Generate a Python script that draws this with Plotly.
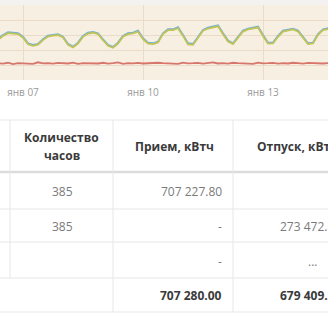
import plotly.graph_objects as go
import pandas as pd

W, H = 328, 320

# ---- chart data (3-hour samples from 2021-01-06 09:00) ----
times = pd.date_range("2021-01-06 09:00", periods=68, freq="3h").strftime("%Y-%m-%d %H:%M").tolist()
blue = [1367, 1500, 1589, 1578, 1556, 1444, 1222, 1167, 1200, 1356,
        1478, 1500, 1522, 1444, 1200, 1111, 1244, 1467, 1578, 1600,
        1556, 1356, 1167, 1100, 1244, 1467, 1556, 1578, 1644, 1389,
        1244, 1222, 1278, 1556, 1689, 1689, 1756, 1500, 1222, 1200,
        1422, 1667, 1744, 1778, 1822, 1556, 1311, 1222, 1422, 1644,
        1711, 1756, 1778, 1500, 1244, 1244, 1467, 1644, 1667, 1711,
        1644, 1422, 1222, 1244, 1533, 1689, 1722, 1689]
green = [1340, 1470, 1560, 1555, 1530, 1410, 1190, 1140, 1175, 1330,
         1450, 1480, 1500, 1415, 1170, 1085, 1215, 1440, 1550, 1575,
         1530, 1325, 1140, 1075, 1215, 1440, 1530, 1555, 1610, 1360,
         1215, 1195, 1250, 1530, 1660, 1665, 1725, 1470, 1190, 1170,
         1395, 1640, 1715, 1750, 1790, 1525, 1280, 1195, 1395, 1615,
         1685, 1730, 1750, 1470, 1215, 1220, 1440, 1615, 1640, 1685,
         1615, 1395, 1195, 1220, 1505, 1660, 1695, 1660]
red = [560, 545, 575, 530, 560, 550, 565, 540, 590, 555,
       560, 545, 570, 560, 550, 580, 540, 560, 555, 565,
       550, 575, 545, 560, 590, 540, 565, 555, 570, 550,
       560, 545, 575, 560, 550, 565, 540, 580, 555, 560,
       570, 545, 560, 590, 550, 565, 545, 575, 560, 550,
       565, 540, 580, 555, 560, 570, 545, 565, 550, 575,
       560, 545, 570, 555, 565, 550, 560, 545]
tick_dates = ["2021-01-07", "2021-01-10", "2021-01-13"]
tick_labels = ["янв 07", "янв 10", "янв 13"]

# ---- table data ----
header_hours = ["Количество", "часов"]
header_priem = "Прием, кВтч"
header_otpusk = "Отпуск, кВтч"
hours = ["385", "385", ""]
priem = ["707 227.80", "-", "-"]
otpusk = ["", "273 472.80", "..."]
total_priem = "707 280.00"
total_otpusk = "679 409.80"

FONT = "Open Sans"


def px(x):
    return x / W


def py(y):
    return 1 - y / H


fig = go.Figure()
fig.add_trace(go.Scatter(x=times, y=red, mode="lines",
                         line=dict(color="#d7766c", width=1.8), hoverinfo="skip"))
fig.add_trace(go.Scatter(x=times, y=blue, mode="lines",
                         line=dict(color="#72b2d6", width=2), hoverinfo="skip"))
fig.add_trace(go.Scatter(x=times, y=green, mode="lines",
                         line=dict(color="#c3c455", width=1.8), hoverinfo="skip"))

shapes = []
shapes.append(dict(type="rect", xref="paper", yref="paper", x0=0, x1=1,
                   y0=py(5), y1=1, fillcolor="#f3f2f0", line=dict(width=0), layer="below"))

LC = "#e7e7e7"


def hline(y, x0=0, x1=W, color=LC, width=1):
    shapes.append(dict(type="line", xref="paper", yref="paper",
                       x0=px(x0), x1=px(x1), y0=py(y), y1=py(y),
                       line=dict(color=color, width=width)))


def vline(x, y0, y1, color=LC, width=1):
    shapes.append(dict(type="line", xref="paper", yref="paper",
                       x0=px(x), x1=px(x), y0=py(y0), y1=py(y1),
                       line=dict(color=color, width=width)))


hline(120)
hline(172, color="#dcdcdc", width=2.5)
hline(209)
hline(242)
hline(278)
hline(312)
vline(10, 120, 278)
vline(113, 120, 312)
vline(233, 120, 312)

ann = []


def text(x, y, s, anchor="center", bold=False, color="#7a7a7a", size=12):
    ann.append(dict(xref="paper", yref="paper", x=px(x), y=py(y), text=s,
                    showarrow=False, xanchor=anchor, yanchor="middle",
                    font=dict(family=FONT, size=size, color=color,
                              weight="bold" if bold else "normal")))


HC = "#3a3a3a"
text(61.5, 137, header_hours[0], bold=True, color=HC)
text(61.5, 155, header_hours[1], bold=True, color=HC)
text(174, 146, header_priem, bold=True, color=HC)
text(255, 146, header_otpusk, anchor="left", bold=True, color=HC)

row_y = [191, 226, 261]
for i, y in enumerate(row_y):
    if hours[i]:
        text(62, y, hours[i])
    if priem[i]:
        text(224, y, priem[i], anchor="right")
    if otpusk[i]:
        if otpusk[i] == "...":
            text(306, y, otpusk[i], anchor="left")
        else:
            text(278, y, otpusk[i], anchor="left")

text(224, 295, total_priem, anchor="right", bold=True, color=HC)
text(278, 295, total_otpusk, anchor="left", bold=True, color=HC)

fig.update_layout(
    width=W, height=H, margin=dict(l=0, r=0, t=0, b=0),
    paper_bgcolor="white", plot_bgcolor="#f8efe3", showlegend=False,
    xaxis=dict(range=["2021-01-06 10:12", "2021-01-14 15:00"], type="date",
               tickvals=tick_dates, ticktext=tick_labels, showgrid=True,
               gridcolor="#eadcc9", gridwidth=1, ticks="", zeroline=False,
               showline=False, ticklabelstandoff=5,
               tickfont=dict(family=FONT, size=10, color="#9a9a9a")),
    yaxis=dict(domain=[py(80), py(5)], range=[0, 2500], dtick=500,
               showticklabels=False, gridcolor="#eadcc9", zeroline=False,
               showline=False),
    shapes=shapes, annotations=ann,
)

fig.write_html("out.html")
